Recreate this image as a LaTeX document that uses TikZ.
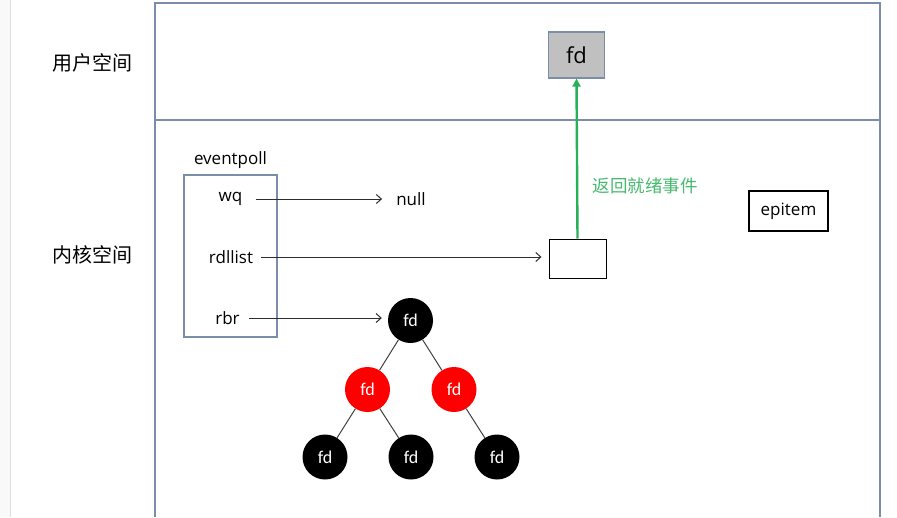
\documentclass[tikz,border=0pt]{standalone}
\usepackage{fontspec}
\setmainfont{Open Sans}
\newfontfamily\cjk{Noto Sans CJK SC}
\newfontfamily\calfont{Carlito}
\usetikzlibrary{arrows.meta}
\definecolor{framec}{RGB}{122,142,170}
\definecolor{boxgray}{RGB}{192,192,192}
\definecolor{grn}{RGB}{40,176,88}
\definecolor{grntxt}{RGB}{70,185,110}
\definecolor{arrc}{RGB}{45,45,45}
\begin{document}
\begin{tikzpicture}[x=1pt,y=-1pt,
  lbl/.style={font=\fontsize{17}{20}\selectfont, inner sep=2pt},
  cjklbl/.style={font=\cjk\fontsize{20}{24}\selectfont},
  ptr/.style={draw=arrc, line width=1pt, -{Straight Barb[length=5pt,width=9pt]}},
  tnode/.style={circle, minimum size=45pt, inner sep=0pt, text=white, font=\calfont\fontsize{18}{21}\selectfont},
  blk/.style={tnode, fill=black},
  rd/.style={tnode, fill=red},
  treeline/.style={draw=black!75, line width=1pt},
]
\useasboundingbox (0,0) rectangle (897,517);
% left strip
\fill[gray!5] (0,0) rectangle (10,517);
\draw[gray!25, line width=0.8pt] (10,0) -- (10,517);
% frame
\draw[framec, line width=1.3pt] (155,517) -- (155,3) -- (880,3) -- (880,517);
\draw[framec, line width=1.3pt] (155,120) -- (880,120);
% region labels
\node[cjklbl] (user) at (92,63) {用户空间};
\node[cjklbl] (kern) at (92,255) {内核空间};
% user space fd
\node[draw=framec, fill=boxgray, line width=1.2pt, minimum width=56pt, minimum height=46pt, font=\fontsize{22}{26}\selectfont] (fdtop) at (576.5,55) {fd};
% eventpoll
\node[lbl] (eplbl) at (230.5,160) {eventpoll};
\node[draw=framec, line width=1.2pt, minimum width=93pt, minimum height=162pt, inner sep=0pt] (ep) at (230.5,256) {};
\node[lbl] (wq) at (230.5,199) {wq};
\node[lbl] (null) at (411,199) {null};
\node[lbl] (rdl) at (231,257) {rdllist};
\node[lbl] (rbr) at (227.5,318) {rbr};
% ready list box
\node[draw=black, line width=1pt, minimum width=57pt, minimum height=39pt] (ready) at (577.5,258.5) {};
% epitem
\node[lbl, draw=black, line width=1.1pt, minimum width=79pt, minimum height=40pt] (epi) at (788.5,211) {epitem};
% tree
\node[blk] (root) at (410.5,320.5) {fd};
\node[rd] (L) at (367.5,389.5) {fd};
\node[rd] (R) at (454,389.5) {fd};
\node[blk] (l1) at (325,457) {fd};
\node[blk] (l2) at (411,457) {fd};
\node[blk] (l3) at (497,457) {fd};
\draw[treeline] (root) -- (L);
\draw[treeline] (root) -- (R);
\draw[treeline] (L) -- (l1);
\draw[treeline] (L) -- (l2);
\draw[treeline] (R) -- (l3);
% pointers
\draw[ptr, shorten <=11pt, shorten >=12pt] (wq.east) -- (wq.east -| null.west);
\draw[ptr, shorten <=6pt, shorten >=7pt] (rdl.east) -- (rdl.east -| ready.west);
\draw[ptr, shorten <=7pt, shorten >=6pt] (rbr.east) -- (rbr.east -| root.west);
% green return arrow
\draw[grn, line width=2.4pt, -{Triangle[length=8pt,width=8pt]}] (ready.north) -- (fdtop.south);
\node[anchor=west, text=grntxt, font=\cjk\fontsize{17.5}{21}\selectfont] (ret) at (589,186) {返回就绪事件};
\end{tikzpicture}
\end{document}
